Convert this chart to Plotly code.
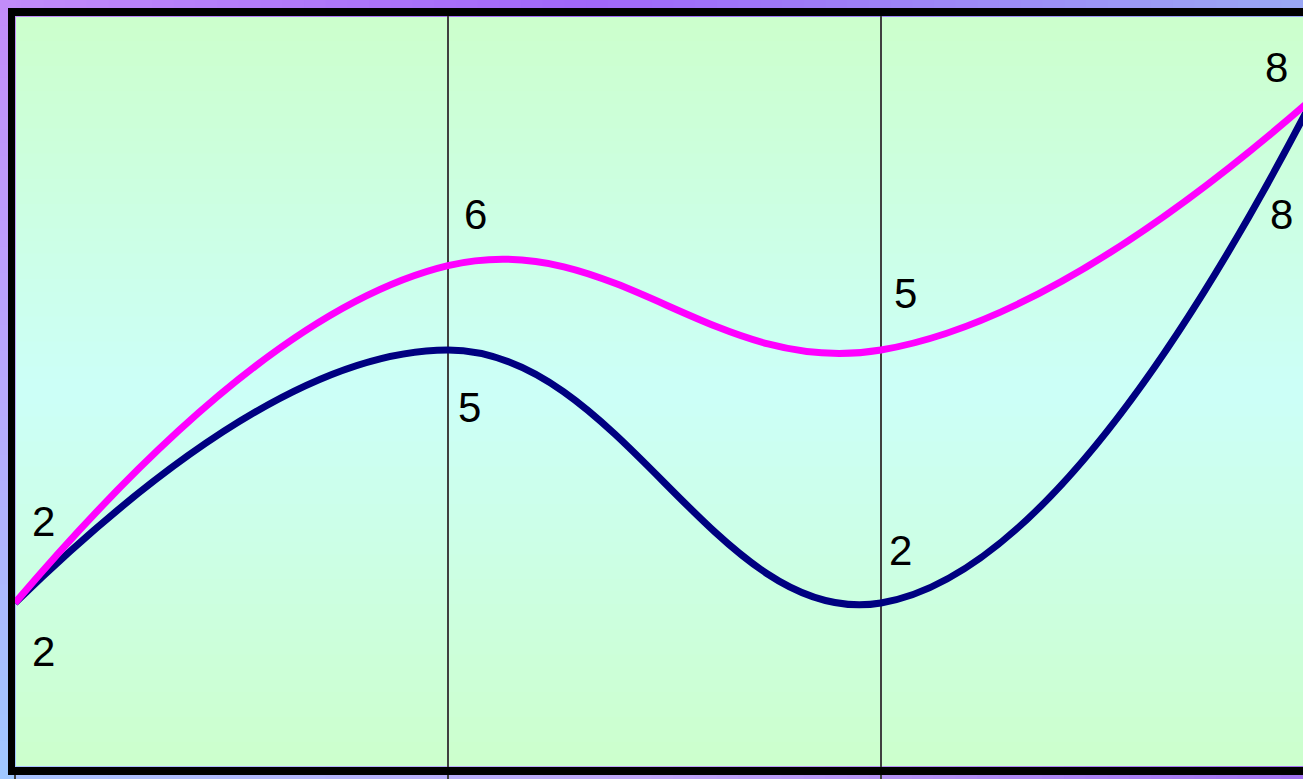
import plotly.graph_objects as go

# datos de las dos series
x_vals = [0, 1, 2, 3]
serie_rosa = [2, 6, 5, 8]
serie_azul = [2, 5, 2, 8]

# desplazamiento (px) de cada etiqueta respecto a su punto
off_rosa = [(28, 82), (27, 51), (24, 57), (-38, 30)]
off_azul = [(28, -48), (21, -57), (19, 53), (-33, -117)]

W, H = 1303, 779
ML, MR, MT, MB = 15, 0, 16, 12
PW, PH = W - ML - MR, H - MT - MB
XR = [0, PW / 433.0]
YR = [2 - (767 - 603) / 84.33, 2 - (767 - 603) / 84.33 + PH / 84.33]


def hex2rgb(h):
    h = h.lstrip("#")
    return [int(h[i:i + 2], 16) for i in (0, 2, 4)]


def mezcla(stops, t):
    # stops: lista de (pos, color)
    for (p0, c0), (p1, c1) in zip(stops[:-1], stops[1:]):
        if p0 <= t <= p1:
            f = (t - p0) / (p1 - p0) if p1 > p0 else 0
            a, b = hex2rgb(c0), hex2rgb(c1)
            return "rgb(%d,%d,%d)" % tuple(round(a[i] + (b[i] - a[i]) * f) for i in range(3))
    return stops[-1][1]


def px2paper_x(px):
    return (px - ML) / PW


def px2paper_y(py):
    return (H - MB - py) / PH


shapes = []
N = 60
# fondo del area de trazado: verde - cian - verde
fondo = [(0, "#ccffcc"), (0.5, "#ccfff8"), (1, "#ccffcc")]
for i in range(N):
    shapes.append(dict(type="rect", xref="paper", yref="paper", layer="below",
                       x0=0, x1=1, y0=i / N, y1=(i + 1) / N + 0.002,
                       line_width=0, fillcolor=mezcla(fondo, (i + 0.5) / N)))

# marco exterior con degradado
sup = [(0, "#c28cf9"), (0.45, "#a066f8"), (1, "#9aa8f6")]
izq = [(0, "#c28cf9"), (0.5, "#b8a8fc"), (1, "#a0c8ff")]
inf = [(0, "#a8c4ff"), (0.5, "#c0a4f8"), (1, "#a070f0")]
for i in range(N):
    t = (i + 0.5) / N
    xa, xb = px2paper_x(W * i / N), px2paper_x(W * (i + 1) / N + 1)
    shapes.append(dict(type="rect", xref="paper", yref="paper", layer="below",
                       x0=xa, x1=xb, y0=px2paper_y(17), y1=px2paper_y(0),
                       line_width=0, fillcolor=mezcla(sup, t)))
    shapes.append(dict(type="rect", xref="paper", yref="paper", layer="below",
                       x0=xa, x1=xb, y0=px2paper_y(H), y1=px2paper_y(766),
                       line_width=0, fillcolor=mezcla(inf, t)))
    shapes.append(dict(type="rect", xref="paper", yref="paper", layer="below",
                       x0=px2paper_x(0), x1=px2paper_x(16),
                       y0=px2paper_y(H * (i + 1) / N + 1), y1=px2paper_y(H * i / N),
                       line_width=0, fillcolor=mezcla(izq, t)))

fig = go.Figure()
fig.add_trace(go.Scatter(x=x_vals, y=serie_azul, mode="lines", name="azul",
                         line=dict(color="#000080", width=7, shape="spline", smoothing=1.2)))
fig.add_trace(go.Scatter(x=x_vals, y=serie_rosa, mode="lines", name="rosa",
                         line=dict(color="#ff00ff", width=7, shape="spline", smoothing=1.2)))

# etiquetas de datos
annotations = []
for serie, offs in ((serie_rosa, off_rosa), (serie_azul, off_azul)):
    for xv, yv, (dx, dy) in zip(x_vals, serie, offs):
        ann = dict(y=yv, yref="y", text=str(yv), showarrow=False,
                   xanchor="center", yanchor="middle",
                   xshift=dx, yshift=dy,
                   font=dict(family="Liberation Sans, Arial", size=42, color="black"))
        if XR[0] <= xv <= XR[1]:
            ann.update(x=xv, xref="x")
        else:
            ann.update(x=(xv - XR[0]) / (XR[1] - XR[0]), xref="paper")
        annotations.append(ann)

fig.update_layout(
    width=W, height=H,
    margin=dict(l=ML, r=MR, t=MT, b=MB, pad=0),
    paper_bgcolor="#b8a4f8",
    plot_bgcolor="#ccffee",
    showlegend=False,
    shapes=shapes,
    annotations=annotations,
    xaxis=dict(range=XR, showgrid=True, gridcolor="#404040", gridwidth=1.5,
               tick0=0, dtick=1, ticks="outside", ticklen=4, tickcolor="#404040",
               tickwidth=1.5, showticklabels=False, zeroline=False,
               showline=True, linecolor="black", linewidth=8, mirror=True),
    yaxis=dict(range=YR, showgrid=False, zeroline=False, showticklabels=False,
               ticks="", showline=True, linecolor="black", linewidth=7, mirror=False),
)

# quitar el margen por defecto del body para que la figura llene la ventana
fig.write_html("out.html", config={"displayModeBar": False},
               post_script="document.body.style.margin='0';document.body.style.overflow='hidden';")
